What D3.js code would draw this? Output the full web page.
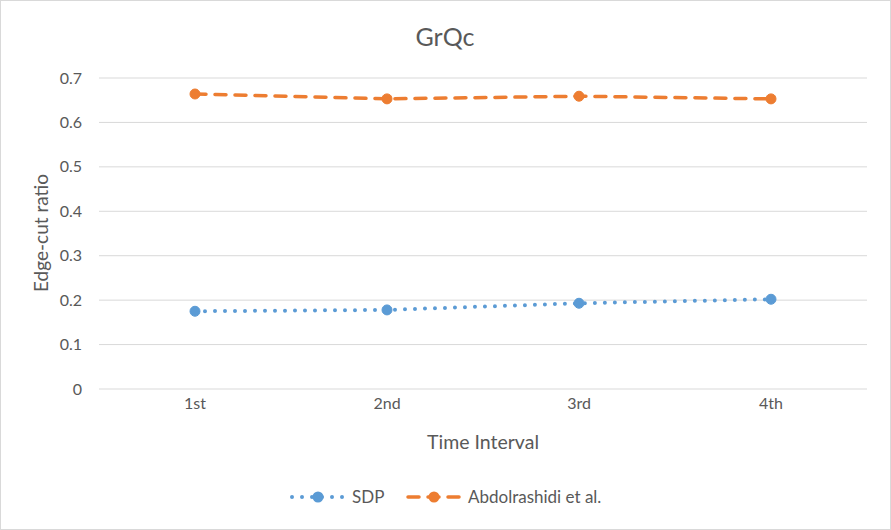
<!DOCTYPE html>
<html><head><meta charset="utf-8">
<script src="https://cdn.jsdelivr.net/npm/d3@7"></script>
<style>body{margin:0;background:#fff}svg{display:block}text{font-family:Lato,"Liberation Sans",Arial,sans-serif;fill:#595959}</style>
</head><body><svg id="c" width="891" height="530"></svg>
<script>
const categories = ["1st", "2nd", "3rd", "4th"];
const sdp = [0.175, 0.178, 0.193, 0.202];
const abdol = [0.664, 0.653, 0.659, 0.653];
const yTicks = [0, 0.1, 0.2, 0.3, 0.4, 0.5, 0.6, 0.7];
const seriesNames = ["SDP", "Abdolrashidi et al."];

const FONT = "Lato, Liberation Sans, Arial, sans-serif";
const svg = d3.select("#c");
svg.append("rect").attr("x",0.5).attr("y",0.5).attr("width",890).attr("height",529)
  .attr("fill","#fff").attr("stroke","#d9d9d9");

const x = d3.scaleBand().domain(categories).range([99, 867]);
const y = d3.scaleLinear().domain([0, 0.7]).range([389, 78]);

// gridlines
svg.append("g").selectAll("line").data(yTicks).join("line")
  .attr("x1",99).attr("x2",867)
  .attr("y1",d=>y(d)).attr("y2",d=>y(d))
  .attr("stroke","#d9d9d9").attr("stroke-width",1);

// y axis
const ya = svg.append("g").attr("transform","translate(99,0)")
  .call(d3.axisLeft(y).tickValues(yTicks).tickSize(0).tickPadding(17).tickFormat(d=>d===0?"0":d3.format(".1f")(d)));
ya.select(".domain").remove();
ya.selectAll("text").attr("font-size",16).attr("font-family",FONT).attr("fill","#595959");

// x axis
const xa = svg.append("g").attr("transform","translate(0,389)")
  .call(d3.axisBottom(x).tickSize(0).tickPadding(9));
xa.select(".domain").remove();
xa.selectAll("text").attr("font-size",16).attr("font-family",FONT).attr("fill","#595959");

// titles
svg.append("text").attr("x",445).attr("y",46).attr("text-anchor","middle").attr("font-size",25).text("GrQc");
svg.append("text").attr("x",483).attr("y",449).attr("text-anchor","middle").attr("font-size",19.5).text("Time Interval");
svg.append("text").attr("transform","translate(48,233) rotate(-90)").attr("text-anchor","middle").attr("font-size",19).text("Edge-cut ratio");

const line = d3.line().x((d,i)=>x(categories[i])+x.bandwidth()/2).y(d=>y(d));

const styles = [
  {data: sdp, color:"#5B9BD5", dash:"0,10", width:4},
  {data: abdol, color:"#ED7D31", dash:"11,9", width:3.5}
];
styles.forEach(s=>{
  svg.append("path").attr("d",line(s.data)).attr("fill","none")
    .attr("stroke",s.color).attr("stroke-width",s.width)
    .attr("stroke-dasharray",s.dash).attr("stroke-linecap","round");
  svg.append("g").selectAll("circle").data(s.data).join("circle")
    .attr("cx",(d,i)=>x(categories[i])+x.bandwidth()/2).attr("cy",d=>y(d))
    .attr("r",5).attr("fill",s.color).attr("stroke",s.color).attr("stroke-width",1);
});

// legend
const leg = [{x1:292,x2:345,m:318,tx:352},{x1:408,x2:462,m:434,tx:468}];
leg.forEach((l,i)=>{
  const s = styles[i];
  svg.append("line").attr("x1",l.x1).attr("x2",l.x2).attr("y1",497).attr("y2",497)
    .attr("stroke",s.color).attr("stroke-width",s.width).attr("stroke-dasharray",s.dash).attr("stroke-linecap","round");
  svg.append("circle").attr("cx",l.m).attr("cy",497).attr("r",5.5).attr("fill",s.color);
  svg.append("text").attr("x",l.tx).attr("y",503).attr("font-size",17).text(seriesNames[i]);
});
</script></body></html>
